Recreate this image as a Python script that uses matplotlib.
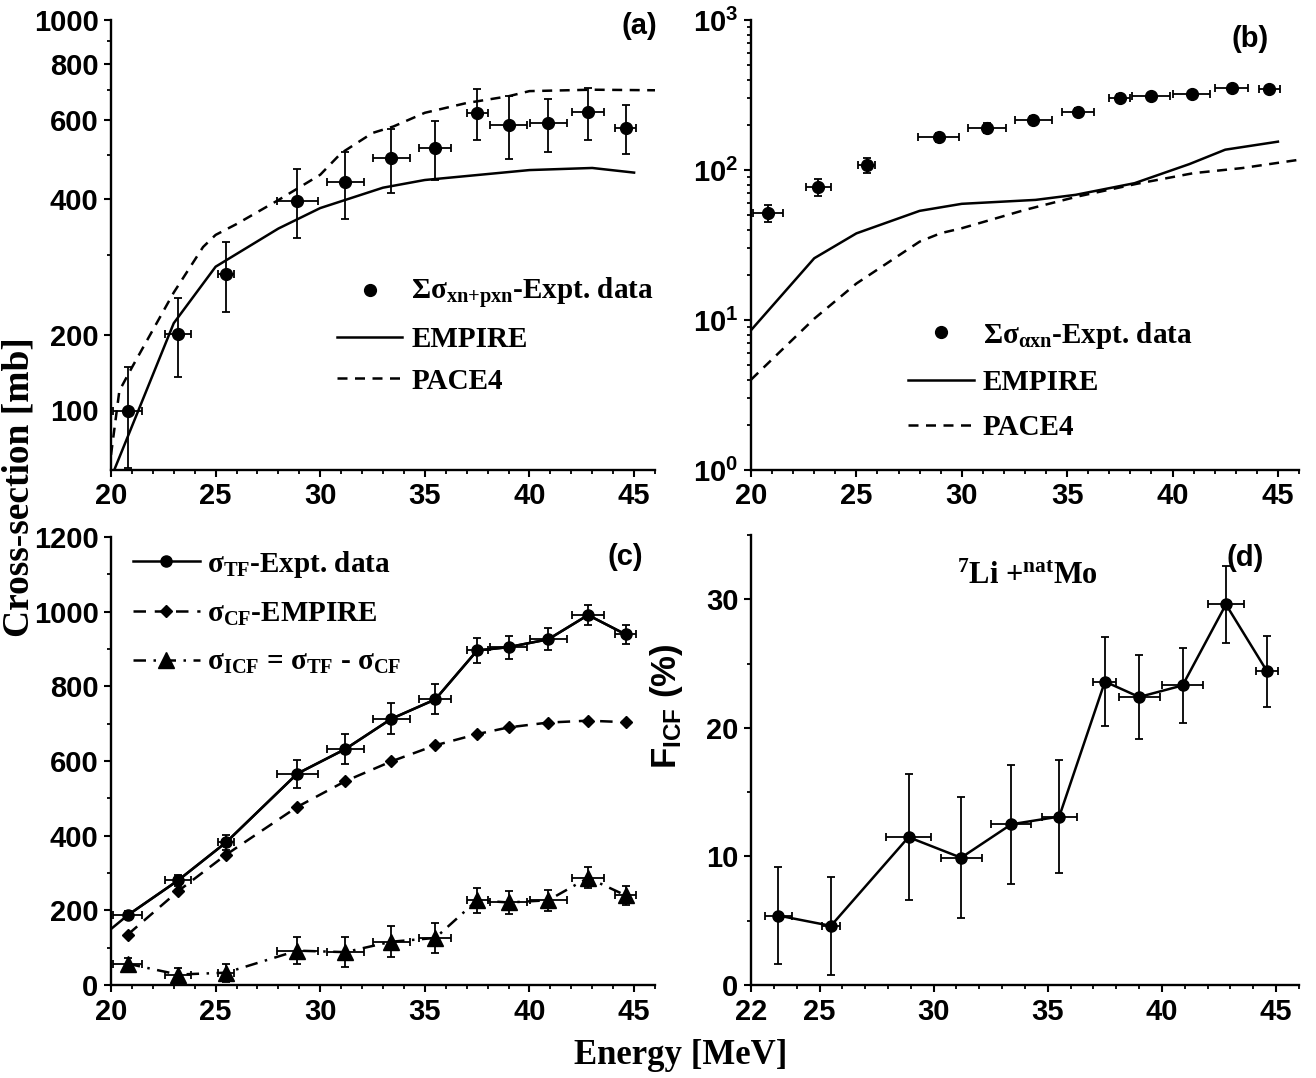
import numpy as np
import matplotlib
matplotlib.use('Agg')
import matplotlib.pyplot as plt
from matplotlib.ticker import FixedLocator, MultipleLocator, NullFormatter, LogLocator

# energies of the measured points [MeV] and their horizontal errors
energy = [20.8, 23.2, 25.5, 28.9, 31.2, 33.4, 35.5, 37.5, 39.0, 40.9, 42.8, 44.6]
energy_err = [0.7, 0.6, 0.4, 0.97, 0.9, 0.87, 0.76, 0.5, 0.9, 0.88, 0.78, 0.5]

# (a) sum of xn + pxn channels
xn_expt = [135, 201, 273, 397, 436, 493, 519, 622, 584, 589, 624, 575]
xn_err = [34, 40, 48, 70, 74, 80, 78, 80, 93, 80, 82, 72]
xn_emp_e = [20, 23, 25, 28, 30, 33, 35, 40, 43, 45]
xn_emp = [96, 212, 283, 344, 382, 424, 441, 464, 469, 458]
xn_pace_e = [20, 20.4, 21, 23, 24.4, 25, 26, 28, 30, 31, 32.5, 33.5, 35, 37, 39, 40, 43, 46]
xn_pace = [108, 150, 169, 248, 313, 333, 352, 398, 453, 506, 561, 580, 622, 654, 677, 695, 700, 698]

# (b) sum of alpha xn channels
axn_expt = [51.5, 77, 108, 165, 191, 217, 244, 302, 310, 323, 353, 349]
axn_err = [6.8, 9.5, 12, 12, 13.5, 12.5, 15.5, 17, 15, 15, 15, 14]
axn_emp_e = [20, 23, 25, 28, 30, 33.5, 35.4, 38.2, 40.8, 42.5, 45]
axn_emp = [8.55, 25.8, 37.8, 53.4, 59.5, 63.2, 68.3, 81.7, 109.5, 136.6, 154.5]
axn_pace_e = [20, 23, 25, 28, 29, 30, 33, 35.5, 38.3, 41, 43.3, 46]
axn_pace = [4.0, 10.2, 17.5, 33.3, 37.9, 40.9, 54.2, 66.6, 80.9, 95.3, 103, 117]

# (c) total, complete and incomplete fusion
tf_e = [20] + energy
tf_line = [150, 187, 280, 382, 566, 632, 713, 765, 896, 905, 926, 991, 939]
tf_expt = [187, 280, 382, 566, 632, 713, 765, 896, 905, 926, 991, 939]
tf_err = [11, 15, 21, 38, 40, 42, 40, 34, 31, 29, 28, 26]
cf_emp = [135, 251, 349, 477, 546, 599, 642, 672, 690, 703, 708, 704]
icf = [57, 28, 33, 92, 88, 116, 126, 227, 221, 227, 287, 240]
icf_err = [16, 18, 24, 37, 40, 41, 41, 34, 32, 28, 28, 26]

# (d) ICF fraction
ficf = [5.4, 4.6, 11.5, 9.9, 12.5, 13.1, 23.6, 22.4, 23.3, 29.6, 24.4]
ficf_err = [3.8, 3.8, 4.9, 4.7, 4.65, 4.4, 3.45, 3.3, 2.9, 3.0, 2.75]

plt.rcParams['font.family'] = 'Liberation Sans'
plt.rcParams['font.weight'] = 'bold'
plt.rcParams['axes.labelweight'] = 'bold'
plt.rcParams['font.size'] = 21
plt.rcParams['mathtext.fontset'] = 'custom'
plt.rcParams['mathtext.rm'] = 'Liberation Serif:bold'
plt.rcParams['mathtext.it'] = 'Liberation Serif:bold'
plt.rcParams['mathtext.bf'] = 'Liberation Serif:bold'
plt.rcParams['mathtext.sf'] = 'Liberation Sans:bold'

SERIF = 'Liberation Serif'
W, H = 1316, 1078
fig = plt.figure(figsize=(W / 100, H / 100), dpi=100)


def box(l, t, r, b):
    return [l / W, 1 - b / H, (r - l) / W, (b - t) / H]


axa = fig.add_axes(box(111, 20, 655, 470))
axb = fig.add_axes(box(751, 20, 1299, 470))
axc = fig.add_axes(box(111, 537, 655, 985))
axd = fig.add_axes(box(751, 535, 1299, 985))

for ax in [axa, axb, axc, axd]:
    ax.spines['top'].set_visible(False)
    ax.spines['right'].set_visible(False)
    ax.spines['left'].set_linewidth(1.7)
    ax.spines['bottom'].set_linewidth(1.7)
    ax.tick_params(which='major', direction='out', length=5, width=1.5, pad=4, labelsize=21)
    ax.tick_params(which='minor', direction='out', length=3, width=1.3)
    ax.xaxis.set_minor_locator(MultipleLocator(1))

ebar = dict(fmt='none', ecolor='black', elinewidth=1.3, capsize=3, capthick=1.3)
leg_font = dict(family=SERIF, weight='bold', size=21)

# ---- (a)
ax = axa
ax.set_yscale('log')
ax.errorbar(energy, xn_expt, yerr=xn_err, xerr=energy_err, **ebar)
h1, = ax.plot(energy, xn_expt, 'o', color='black', ms=8.5)
h2, = ax.plot(xn_emp_e, xn_emp, '-', color='black', lw=1.8)
h3, = ax.plot(xn_pace_e, xn_pace, color='black', lw=1.8, ls=(0, (4, 3)))
ax.set_xlim(20, 46)
ax.set_ylim(100, 1000)
ax.yaxis.set_major_locator(FixedLocator([136, 200, 400, 600, 800, 1000]))
ax.set_yticklabels(['100', '200', '400', '600', '800', '1000'])
ax.yaxis.get_major_ticks()[0].tick1line.set_visible(False)
ax.yaxis.set_minor_locator(FixedLocator([300, 500, 700, 900]))
ax.yaxis.set_minor_formatter(NullFormatter())
ax.set_xticks([20, 25, 30, 35, 40, 45])
ax.legend([h1, h2, h3],
          ['Σσ$_{\\mathrm{xn{+}pxn}}$-Expt. data', 'EMPIRE', 'PACE4'],
          loc='upper left', bbox_to_anchor=(0.415, 0.43), frameon=False,
          borderpad=0, borderaxespad=0, handlelength=2.25, handletextpad=0.3,
          labelspacing=0.5, prop=leg_font)
ax.text(0.972, 0.987, '(a)', transform=ax.transAxes, ha='center', va='center', size=21)

# ---- (b)
ax = axb
ax.set_yscale('log')
ax.errorbar(energy, axn_expt, yerr=axn_err, xerr=energy_err, **ebar)
h1, = ax.plot(energy, axn_expt, 'o', color='black', ms=8.5)
h2, = ax.plot(axn_emp_e, axn_emp, '-', color='black', lw=1.8)
h3, = ax.plot(axn_pace_e, axn_pace, color='black', lw=1.8, ls=(0, (4, 3)))
ax.set_xlim(20, 46)
ax.set_ylim(1, 1000)
ax.yaxis.set_major_locator(LogLocator(base=10, numticks=10))
ax.yaxis.set_minor_locator(LogLocator(base=10, subs=np.arange(2, 10), numticks=20))
ax.yaxis.set_minor_formatter(NullFormatter())
ax.set_xticks([20, 25, 30, 35, 40, 45])
ax.legend([h1, h2, h3],
          ['Σσ$_{\\mathrm{\\alpha xn}}$-Expt. data', 'EMPIRE', 'PACE4'],
          loc='upper left', bbox_to_anchor=(0.287, 0.334), frameon=False,
          borderpad=0, borderaxespad=0, handlelength=2.25, handletextpad=0.3,
          labelspacing=0.62, prop=leg_font)
ax.text(0.91, 0.958, '(b)', transform=ax.transAxes, ha='center', va='center', size=21)

# ---- (c)
ax = axc
ax.errorbar(energy, tf_expt, yerr=tf_err, xerr=energy_err, **ebar)
ax.errorbar(energy, icf, yerr=icf_err, xerr=energy_err, **ebar)
ax.plot(tf_e, tf_line, '-', color='black', lw=1.8)
h1, = ax.plot(energy, tf_expt, '-o', color='black', lw=1.8, ms=8)
h2, = ax.plot(energy, cf_emp, 'D', color='black', lw=1.8, ms=6.5, ls=(0, (5, 3.5)))
h3, = ax.plot(energy, icf, '^', color='black', lw=1.8, ms=11, ls=(0, (5, 3, 1, 3)))
ax.set_xlim(20, 46)
ax.set_ylim(0, 1200)
ax.yaxis.set_major_locator(MultipleLocator(200))
ax.yaxis.set_minor_locator(MultipleLocator(100))
ax.set_xticks([20, 25, 30, 35, 40, 45])
ax.legend([h1, h2, h3],
          ['σ$_{\\mathrm{TF}}$-Expt. data', 'σ$_{\\mathrm{CF}}$-EMPIRE',
           'σ$_{\\mathrm{ICF}}$ = σ$_{\\mathrm{TF}}$ - σ$_{\\mathrm{CF}}$'],
          loc='upper left', bbox_to_anchor=(0.04, 0.974), frameon=False,
          borderpad=0, borderaxespad=0, handlelength=2.3, handletextpad=0.25,
          labelspacing=0.72, prop=leg_font)
ax.text(0.945, 0.955, '(c)', transform=ax.transAxes, ha='center', va='center', size=21)

# ---- (d)
ax = axd
ax.errorbar(energy[1:], ficf, yerr=ficf_err, xerr=energy_err[1:], **ebar)
ax.plot(energy[1:], ficf, '-o', color='black', lw=1.8, ms=8)
ax.set_xlim(22, 46)
ax.set_ylim(0, 35)
ax.set_xticks([22, 25, 30, 35, 40, 45])
ax.yaxis.set_major_locator(MultipleLocator(10))
ax.yaxis.set_minor_locator(MultipleLocator(5))
ax.set_ylabel('F$_{\\mathsf{ICF}}$ (%)', size=25, weight='bold')
ax.yaxis.set_label_coords(-0.12, 0.62)
ax.text(0.901, 0.949, '(d)', transform=ax.transAxes, ha='center', va='center', size=21)
ax.text(0.505, 0.907, '$^{\\mathrm{7}}$Li +$^{\\mathrm{nat}}$Mo', transform=ax.transAxes,
        ha='center', va='center', family=SERIF, weight='bold', size=22)

fig.text(19 / W, 1 - 487 / H, 'Cross-section [mb]', rotation=90, ha='center', va='center',
         family=SERIF, weight='bold', size=27)
fig.text(681 / W, 1 - 1055 / H, 'Energy [MeV]', ha='center', va='center',
         family=SERIF, weight='bold', size=25)

fig.savefig('out.png', dpi=100)
